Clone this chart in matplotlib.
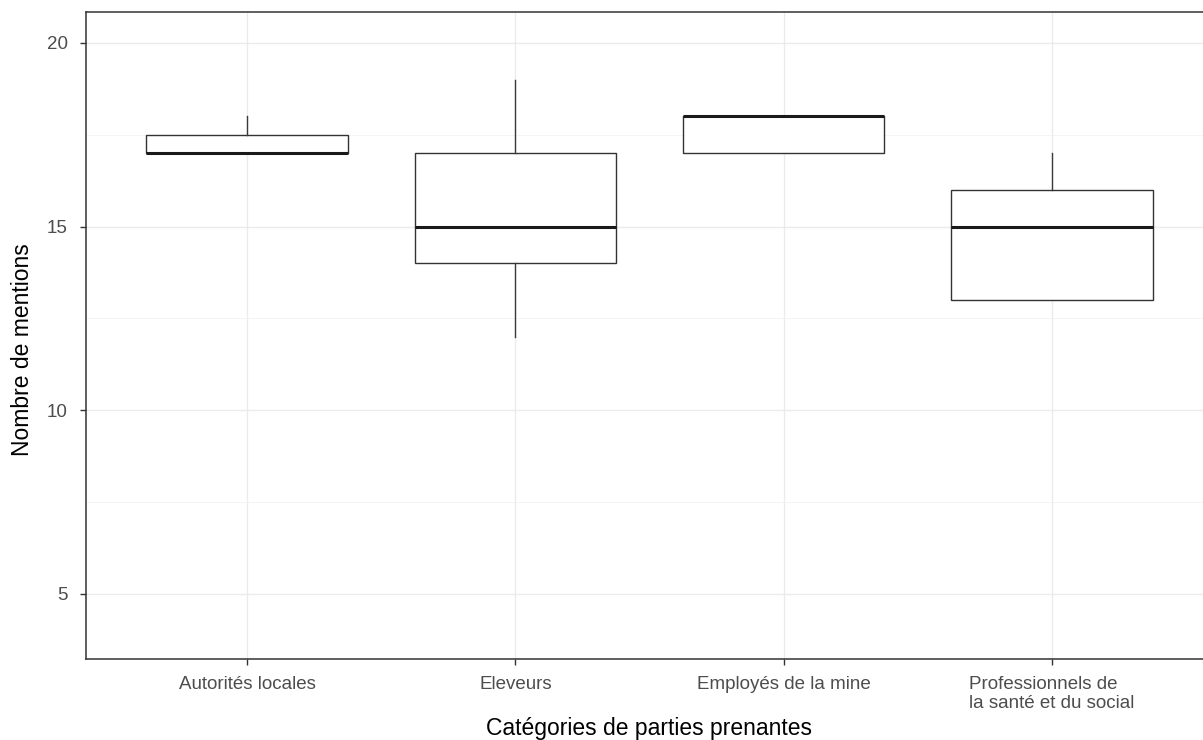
import matplotlib
matplotlib.use("Agg")
import matplotlib.pyplot as plt
from matplotlib.ticker import MultipleLocator

categories = ["Autorités locales", "Eleveurs", "Employés de la mine",
              "Professionnels de\nla santé et du social"]
whislo = [17, 12, 17, 13]
q1 = [17, 14, 17, 13]
med = [17, 15, 18, 15]
q3 = [17.5, 17, 18, 16]
whishi = [18, 19, 18, 17]

plt.rcParams['font.family'] = ['Liberation Sans', 'DejaVu Sans']

fig = plt.figure(figsize=(12.03, 7.40), dpi=100)
W, H = 1203, 740
left, right, top, bottom = 86, 1213, 12, 659
ax = fig.add_axes([left / W, 1 - bottom / H, (right - left) / W, (bottom - top) / H])

stats = []
for i, c in enumerate(categories):
    stats.append(dict(label=c, whislo=whislo[i], q1=q1[i], med=med[i],
                      q3=q3[i], whishi=whishi[i], fliers=[]))

positions = list(range(1, len(categories) + 1))
ax.bxp(stats, positions=positions, widths=0.75, showfliers=False, patch_artist=True,
       boxprops=dict(facecolor='white', edgecolor='#333333', linewidth=1.0),
       medianprops=dict(color='#1a1a1a', linewidth=2.2),
       whiskerprops=dict(color='#3a3a3a', linewidth=1.0),
       capprops=dict(linewidth=0), zorder=3)

ax.set_xlim(0.4, 4.6)
ax.set_ylim(3.23, 20.84)
ax.yaxis.set_major_locator(MultipleLocator(5))
ax.yaxis.set_minor_locator(MultipleLocator(2.5))
ax.set_xticks(positions)
ax.set_xticklabels(categories)

ax.grid(which='major', color='#ebebeb', linewidth=1.0, zorder=0)
ax.grid(which='minor', axis='y', color='#f2f2f2', linewidth=0.6, zorder=0)
ax.set_axisbelow(True)

for s in ax.spines.values():
    s.set_color('#333333')
    s.set_linewidth(1.1)

ax.tick_params(axis='both', which='major', colors='#333333', length=4, width=1.0,
               labelsize=13.5, labelcolor='#4d4d4d')
ax.tick_params(axis='y', which='minor', length=0)
ax.tick_params(axis='x', pad=8)
ax.tick_params(axis='y', pad=9)
for lbl in ax.get_xticklabels():
    lbl.set_multialignment('left')

ax.set_xlabel("Catégories de parties prenantes", fontsize=16.5, color='black')
ax.set_ylabel("Nombre de mentions", fontsize=16.5, color='black')
ax.xaxis.set_label_coords(0.5, (659 - 728) / 647)
ax.xaxis.label.set_va('center')
ax.yaxis.set_label_coords((23 - 86) / 1127, (659 - 350) / 647)
ax.yaxis.label.set_va('center')

fig.savefig("out.png", dpi=100)
